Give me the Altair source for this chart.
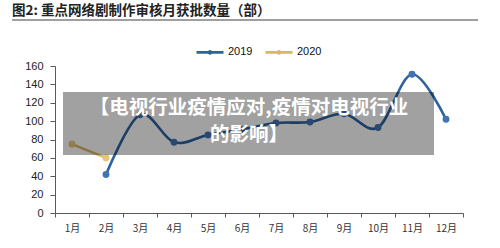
import altair as alt
import pandas as pd

# Monthly approvals of key web series (部)
months = ["1月", "2月", "3月", "4月", "5月", "6月", "7月", "8月", "9月", "10月", "11月", "12月"]
approvals_2019 = [None, 42, 107, 77, 85, 91, 98, 99, 108, 93, 151, 102]
approvals_2020 = [75, 60]
years = ["2019", "2020"]
y_ticks = [0, 20, 40, 60, 80, 100, 120, 140, 160]

title_text = "图2:  重点网络剧制作审核月获批数量（部）"
banner_lines = ["【电视行业疫情应对,疫情对电视行业", "的影响】"]

line_colors = ["#2D63A0", "#D9B95F"]
point_colors = ["#4273B5", "#E6C76E"]

rows = []
for m, v in zip(months, approvals_2019):
    if v is not None:
        rows.append({"month": m, "value": v, "year": "2019"})
for m, v in zip(months, approvals_2020):
    rows.append({"month": m, "value": v, "year": "2020"})
df = pd.DataFrame(rows)

W, H = 408, 147
FONT = "Liberation Sans"
CJK = "Noto Sans CJK SC"

x_enc = alt.X(
    "month:N",
    sort=months,
    scale=alt.Scale(type="band", domain=months, paddingInner=0, paddingOuter=0),
    axis=alt.Axis(
        title=None, labelAngle=0, tickBand="extent", tickSize=4,
        labelFont=CJK, labelFontSize=10, labelColor="#333333", labelPadding=6,
        domainColor="#595959", tickColor="#595959", grid=False,
    ),
)
y_enc = alt.Y(
    "value:Q",
    scale=alt.Scale(domain=[0, 160], nice=False),
    axis=alt.Axis(
        title=None, values=y_ticks, grid=False, tickSize=5,
        labelOverlap=False, labelFlush=False,
        labelFont=FONT, labelFontSize=11, labelColor="#222222", labelPadding=7,
        domainColor="#595959", tickColor="#595959",
    ),
)

legend_symbol = "M-1,0H1M-0.08,0A0.08,0.08 0 1,1 0.08,0A0.08,0.08 0 1,1 -0.08,0Z"

lines = alt.Chart(df).mark_line(interpolate="cardinal", strokeWidth=2.6).encode(
    x=x_enc,
    y=y_enc,
    color=alt.Color(
        "year:N",
        scale=alt.Scale(domain=years, range=line_colors),
        legend=alt.Legend(
            title=None, orient="none", direction="horizontal",
            legendX=140, legendY=-29, padding=0,
            symbolType=legend_symbol, symbolSize=729, symbolStrokeWidth=2.6,
            labelFont=FONT, labelFontSize=11, labelColor="#111111",
            labelOffset=3, columnPadding=7,
        ),
    ),
    detail="year:N",
)

points = alt.Chart(df).mark_point(filled=True, size=48, opacity=1).encode(
    x=x_enc,
    y=y_enc,
    fill=alt.condition(alt.datum.year == "2019", alt.value(point_colors[0]), alt.value(point_colors[1])),
)

one = pd.DataFrame({"k": [0]})

# translucent banner across the middle of the plot
banner = alt.Chart(one).mark_rect(color="#000000", opacity=0.37).encode(
    x=alt.value(8), x2=alt.value(379), y=alt.value(26), y2=alt.value(89)
)
banner_text1 = alt.Chart(one).mark_text(
    font=CJK, fontSize=19.5, fontWeight="bold", color="#FFFFFF", align="center", baseline="middle"
).encode(x=alt.value(194), y=alt.value(42), text=alt.value(banner_lines[0]))
banner_text2 = alt.Chart(one).mark_text(
    font=CJK, fontSize=19.5, fontWeight="bold", color="#FFFFFF", align="center", baseline="middle"
).encode(x=alt.value(194), y=alt.value(69), text=alt.value(banner_lines[1]))

title = alt.Chart(one).mark_text(
    font=CJK, fontSize=13.5, fontWeight="bold", color="#222222", align="left", baseline="middle"
).encode(x=alt.value(-43), y=alt.value(-55), text=alt.value(title_text))
title_rule = alt.Chart(one).mark_rule(color="#404040", strokeWidth=1.2).encode(
    x=alt.value(-43), x2=alt.value(423), y=alt.value(-46)
)

chart = alt.layer(lines, points, banner, banner_text1, banner_text2, title, title_rule).properties(
    width=W, height=H,
    autosize=alt.AutoSizeParams(type="none"),
    padding={"left": 55, "top": 66, "right": 37, "bottom": 35},
    background="#FFFFFF",
).configure_view(stroke=None)

chart.save("out.html", embed_options={"renderer": "svg", "actions": False})
